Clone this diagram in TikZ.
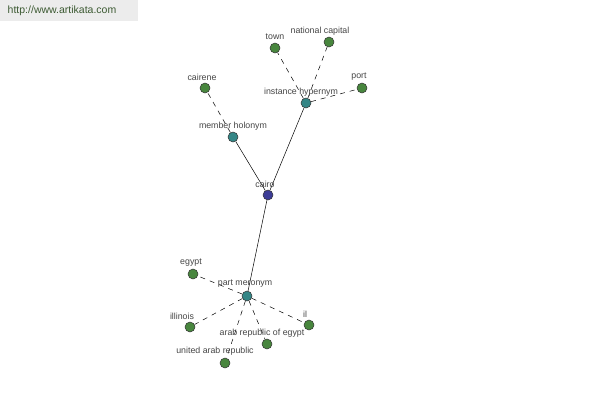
\documentclass[tikz,border=0pt]{standalone}
\usepackage{fontspec}
\setmainfont{Liberation Sans}
\definecolor{leafc}{RGB}{72,134,62}
\definecolor{hubc}{RGB}{52,134,134}
\definecolor{rootc}{RGB}{60,60,150}
\definecolor{labc}{RGB}{70,70,70}
\definecolor{hdrbg}{RGB}{236,236,236}
\definecolor{hdrtx}{RGB}{60,90,50}
\tikzset{
  dot/.style={circle,draw=black!80,line width=0.5pt,minimum size=10pt,inner sep=0pt},
  leaf/.style={dot,fill=leafc},
  hub/.style={dot,fill=hubc},
  root/.style={dot,fill=rootc},
  lab/.style={text=labc,font=\fontsize{8.8}{10}\selectfont,inner sep=0pt},
  solidedge/.style={black,line width=0.5pt},
  dashedge/.style={black,line width=0.5pt,dash pattern=on 5pt off 5pt},
}
\begin{document}
\begin{tikzpicture}[x=1pt,y=-1pt]
\useasboundingbox (0,0) rectangle (600,400);
\fill[white] (0,0) rectangle (600,400);
\fill[hdrbg] (0,0) rectangle (138,21);
\node[text=hdrtx,font=\fontsize{10.5}{12}\selectfont,inner sep=0pt] (hdr) at (62,11) {http://www.artikata.com};
% nodes
\node[root] (cairo) at (268,195) {};
\node[hub] (mh) at (233,137) {};
\node[hub] (ih) at (306,103) {};
\node[hub] (pm) at (247,296) {};
\node[leaf] (cairene) at (205,88) {};
\node[leaf] (town) at (275,48) {};
\node[leaf] (natcap) at (329,42) {};
\node[leaf] (port) at (362,88) {};
\node[leaf] (egypt) at (193,274) {};
\node[leaf] (illinois) at (190,327) {};
\node[leaf] (are) at (267,344) {};
\node[leaf] (uar) at (225,363) {};
\node[leaf] (il) at (309,325) {};
% edges
\draw[solidedge] (cairo) -- (mh);
\draw[solidedge] (cairo) -- (ih);
\draw[solidedge] (cairo) -- (pm);
\draw[dashedge] (mh) -- (cairene);
\draw[dashedge] (ih) -- (town);
\draw[dashedge] (ih) -- (natcap);
\draw[dashedge] (ih) -- (port);
\draw[dashedge] (pm) -- (egypt);
\draw[dashedge] (pm) -- (illinois);
\draw[dashedge] (pm) -- (are);
\draw[dashedge] (pm) -- (uar);
\draw[dashedge] (pm) -- (il);
% labels
\node[lab] (lcairo) at (265,184) {cairo};
\node[lab] (lmh) at (233,126) {member holonym};
\node[lab] (lih) at (301,92) {instance hypernym};
\node[lab] (lpm) at (245,284) {part meronym};
\node[lab] (lcairene) at (202,77) {cairene};
\node[lab] (ltown) at (275,37) {town};
\node[lab] (lnatcap) at (320,31) {national capital};
\node[lab] (lport) at (359,77) {port};
\node[lab] (legypt) at (191,263) {egypt};
\node[lab] (lillinois) at (182,316) {illinois};
\node[lab] (lare) at (262,333) {arab republic of egypt};
\node[lab] (luar) at (215,351) {united arab republic};
\node[lab] (lil) at (305,314) {il};
\end{tikzpicture}
\end{document}
